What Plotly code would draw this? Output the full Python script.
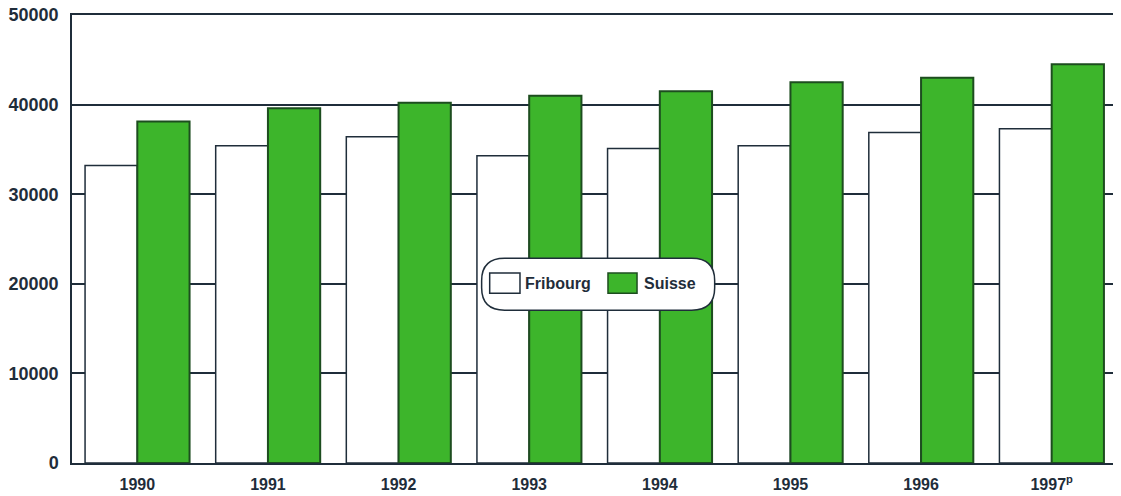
import plotly.graph_objects as go

# 데이터
years = ["1990", "1991", "1992", "1993", "1994", "1995", "1996", "1997"]
year_labels = ["1990", "1991", "1992", "1993", "1994", "1995", "1996", "1997<sup>p</sup>"]
fribourg = [33200, 35400, 36400, 34300, 35100, 35400, 36900, 37300]
suisse = [38100, 39600, 40200, 41000, 41500, 42500, 43000, 44500]

INK = '#1f2d3a'
GREEN = '#3db52b'
GREEN_EDGE = '#1d4d1f'
FAMILY = 'Liberation Sans, Arial, sans-serif'
XFONT = dict(family=FAMILY, size=16, color=INK, weight='bold')
YFONT = dict(family=FAMILY, size=18, color=INK, weight='bold')
LFONT = dict(family=FAMILY, size=16, color=INK, weight='bold')

fig = go.Figure()
fig.add_trace(go.Bar(
    x=years, y=fribourg, name='Fribourg',
    marker=dict(color='#ffffff', line=dict(color=INK, width=1.5)),
))
fig.add_trace(go.Bar(
    x=years, y=suisse, name='Suisse',
    marker=dict(color=GREEN, line=dict(color=GREEN_EDGE, width=2)),
))

# 둥근 모서리 범례 박스 (paper 좌표)
x0, x1, y0, y1 = 0.392, 0.615, 0.341, 0.457
rx, ry = 0.022, 0.050
pill = (f"M {x0+rx},{y0} L {x1-rx},{y0} Q {x1},{y0} {x1},{y0+ry} "
        f"L {x1},{y1-ry} Q {x1},{y1} {x1-rx},{y1} L {x0+rx},{y1} "
        f"Q {x0},{y1} {x0},{y1-ry} L {x0},{y0+ry} Q {x0},{y0} {x0+rx},{y0} Z")

shapes = [
    dict(type='path', path=pill, xref='paper', yref='paper',
         fillcolor='white', line=dict(color=INK, width=1.5), layer='above'),
    dict(type='rect', xref='paper', yref='paper', x0=0.3997, x1=0.4287, y0=0.379, y1=0.424,
         fillcolor='white', line=dict(color=INK, width=1.5), layer='above'),
    dict(type='rect', xref='paper', yref='paper', x0=0.5129, x1=0.5407, y0=0.379, y1=0.424,
         fillcolor=GREEN, line=dict(color=GREEN_EDGE, width=1.5), layer='above'),
]
annotations = [
    dict(text='Fribourg', xref='paper', yref='paper', x=0.4315, y=0.401,
         xanchor='left', yanchor='middle', showarrow=False, font=LFONT),
    dict(text='Suisse', xref='paper', yref='paper', x=0.5450, y=0.401,
         xanchor='left', yanchor='middle', showarrow=False, font=LFONT),
]

# 페이지 body 기본 여백(8px)만큼 보정
fig.update_layout(
    width=1113, height=488,
    margin=dict(l=64, r=4, t=7, b=33),
    paper_bgcolor='white', plot_bgcolor='white',
    barmode='group', bargap=0.2, bargroupgap=0,
    showlegend=False,
    shapes=shapes, annotations=annotations,
    xaxis=dict(
        type='category', tickvals=years, ticktext=year_labels,
        range=[-0.5, 7.5], showgrid=False, ticks='', automargin=False,
        showline=True, mirror=True, linecolor=INK, linewidth=1.5,
        tickfont=XFONT, ticklabelstandoff=6,
    ),
    yaxis=dict(
        range=[0, 50000], tickvals=[0, 10000, 20000, 30000, 40000, 50000],
        tickformat='d', ticklabeloverflow='allow', automargin=False,
        showgrid=True, gridcolor=INK, gridwidth=1.5,
        showline=True, linecolor=INK, linewidth=1.5,
        zeroline=False, ticks='', tickfont=YFONT, ticklabelstandoff=8,
    ),
)

fig.write_html("out.html")
